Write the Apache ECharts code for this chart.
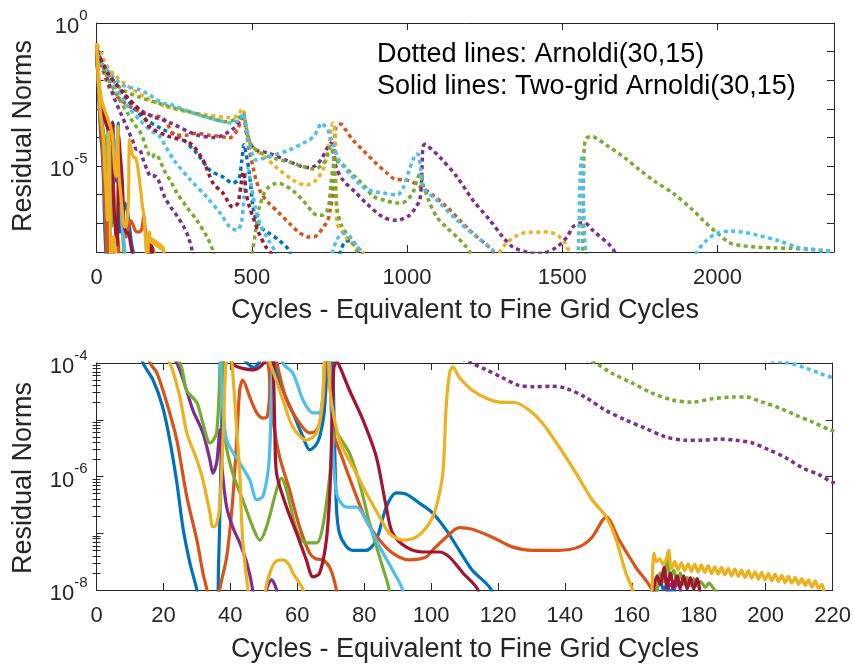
<!DOCTYPE html>
<html>
<head>
<meta charset="utf-8">
<script src="https://cdn.jsdelivr.net/npm/echarts@6/dist/echarts.min.js"></script>
<style>
  html, body { margin: 0; padding: 0; background: #ffffff; }
  #chart { width: 854px; height: 664px; }
</style>
</head>
<body>
<div id="chart"></div>
<script>
// Residual-norm histories, stored as [cycle, log10(residual norm)].
// Arnoldi(30,15) runs (dotted).
const arnoldiPurple1 = [[2,-0.9],[20,-1.5],[40,-2.1],[60,-2.7],[80,-3.2],[100,-3.7],[112,-4.0],[116.5,-4.12],[121,-4.25],[126,-4.39],[131,-4.42],[136,-4.41],[140,-4.44],[146,-4.6],[152,-4.83],[158,-5.0],[164,-5.15],[170,-5.3],[176,-5.36],[181,-5.36],[186,-5.34],[191,-5.36],[196,-5.41],[201,-5.53],[206,-5.67],[211,-5.85],[216,-5.97],[220,-6.1],[240,-6.45],[260,-6.75],[280,-7.1],[295,-7.45],[308,-7.95],[320,-8.6]];
const arnoldiGreen1 = [[2,-1.0],[20,-1.5],[40,-2.0],[60,-2.4],[80,-2.8],[100,-3.15],[120,-3.5],[140,-3.8],[149,-4.0],[154,-4.18],[160,-4.35],[166,-4.53],[172,-4.65],[178,-4.69],[184,-4.63],[190,-4.6],[194,-4.6],[199,-4.69],[204,-4.79],[209,-4.92],[214,-5.04],[219.4,-5.18],[240,-5.55],[259,-5.94],[291,-6.43],[323,-6.89],[356,-7.48],[375,-7.95],[390,-8.6],[480,-8.8],[500,-8.1],[512,-7.3],[523,-6.5],[540,-5.95],[555,-5.73],[572,-5.62],[588,-5.6],[610,-5.7],[633,-5.86],[665,-6.2],[697,-6.62],[713,-6.72],[729,-6.71],[745,-6.5],[750,-6.2],[755,-5.6],[763,-5.0],[771,-4.82],[787,-4.9],[803,-5.05],[825,-5.3],[845,-5.5],[868,-5.75],[890,-6.05],[930,-6.2],[968,-6.29],[985,-6.28],[1000,-6.19],[1020,-5.9],[1041,-5.3],[1047,-5.3],[1051,-5.6],[1070,-6.2],[1096,-6.78],[1128,-7.15],[1161,-7.48],[1185,-7.75],[1202,-8.0],[1220,-8.6],[1555,-8.8],[1565,-8.0],[1567,-6.5],[1569,-5.0],[1571,-4.3],[1576,-4.05],[1586,-3.98],[1597,-3.97],[1610,-4.03],[1643,-4.27],[1700,-4.7],[1750,-5.14],[1800,-5.55],[1856,-5.94],[1921,-6.54],[1953,-6.89],[1999,-7.34],[2041,-7.69],[2080,-7.78],[2128,-7.83],[2180,-7.86],[2234,-7.87],[2290,-7.9],[2340,-7.94],[2375,-8.0]];
const arnoldiCyan1 = [[2,-1.0],[30,-1.6],[60,-2.2],[100,-2.9],[140,-3.4],[180,-3.8],[207,-4.0],[212,-4.09],[216,-4.18],[220,-4.26],[250,-4.8],[300,-5.45],[355,-6.08],[398,-6.64],[430,-7.13],[452,-7.24],[466,-7.0],[474,-6.2],[480,-5.3],[486,-5.1],[492,-5.3],[500,-5.8],[515,-6.6],[530,-7.1],[555,-7.6],[575,-8.0],[590,-8.7],[740,-8.8],[760,-8.0],[775,-7.55],[795,-7.35],[815,-7.45],[835,-7.75],[852,-8.0],[870,-8.7]];
const arnoldiCyan2 = [[2,-1.19],[43,-1.75],[85,-2.17],[140,-2.34],[172,-2.52],[214,-2.8],[246,-2.87],[301,-3.11],[388,-3.39],[439,-3.5],[462,-3.35],[472,-3.15],[480,-3.5],[491,-4.2],[514,-4.79],[540,-4.72],[569,-4.62],[620,-4.44],[665,-4.2],[697,-3.99],[714,-3.7],[723,-3.5],[735,-3.6],[745,-3.74],[761,-4.2],[781,-4.79],[813,-5.24],[858,-5.73],[890,-5.88],[923,-5.94],[968,-6.01],[987,-5.77],[1005,-5.2],[1019,-4.79],[1030,-4.58],[1037,-4.6],[1045,-5.2],[1051,-5.73],[1096,-6.19],[1161,-6.89],[1225,-7.48],[1277,-7.94],[1299,-8.3],[1400,-8.9],[1540,-8.8],[1551,-8.0],[1555,-6.5],[1558,-5.2],[1562,-4.72],[1565,-5.0],[1568,-6.2],[1572,-7.5],[1576,-8.0],[1590,-8.8],[1900,-8.8],[1934,-8.0],[1965,-7.59],[1999,-7.34],[2041,-7.27],[2082,-7.31],[2128,-7.41],[2192,-7.59],[2256,-7.83],[2320,-7.94],[2372,-8.0]];
const arnoldiOrange = [[2,-0.9],[40,-2.24],[80,-2.7],[120,-3.0],[169,-3.22],[214,-3.32],[256,-3.92],[288,-3.92],[320,-3.85],[362,-3.92],[395,-3.95],[427,-4.02],[455,-3.7],[472,-3.2],[485,-4.0],[495,-4.6],[504,-5.03],[514,-5.49],[530,-5.94],[555,-6.29],[588,-6.64],[620,-6.99],[652,-7.31],[684,-7.48],[700,-7.48],[716,-7.34],[733,-7.1],[745,-6.89],[753,-6.5],[761,-5.94],[765,-4.44],[771,-3.64],[779,-3.55],[787,-3.53],[800,-3.7],[826,-4.09],[858,-4.44],[895,-4.85],[935,-5.24],[960,-5.45],[1000,-5.49],[1025,-5.6],[1051,-5.77],[1083,-6.01],[1128,-6.43],[1170,-6.89],[1212,-7.34],[1257,-7.76],[1277,-8.0],[1300,-8.6]];
const arnoldiPurple2 = [[2,-1.0],[30,-1.7],[80,-2.4],[150,-3.1],[240,-3.5],[320,-3.9],[380,-4.0],[440,-3.7],[472,-3.3],[485,-3.9],[500,-4.3],[514,-4.44],[555,-4.55],[611,-4.79],[665,-5.03],[690,-5.05],[707,-4.97],[725,-4.75],[739,-4.44],[755,-4.2],[763,-4.6],[771,-5.03],[794,-5.49],[836,-5.94],[868,-6.29],[923,-6.78],[968,-6.89],[1009,-6.71],[1030,-6.4],[1041,-6.19],[1047,-5.5],[1051,-4.34],[1058,-4.24],[1064,-4.27],[1106,-4.69],[1161,-5.38],[1212,-6.19],[1267,-6.89],[1309,-7.48],[1341,-7.83],[1386,-8.0],[1412,-8.05],[1438,-8.04],[1482,-7.83],[1515,-7.48],[1534,-7.13],[1557,-6.99],[1575,-7.0],[1598,-7.24],[1653,-7.76],[1669,-8.0],[1700,-8.7]];
const arnoldiGreen2 = [[2,-1.1],[30,-1.7],[80,-2.3],[140,-2.6],[200,-2.8],[260,-3.0],[300,-3.1],[360,-3.3],[420,-3.45],[460,-3.3],[472,-3.15],[485,-3.8],[500,-4.3],[540,-4.6],[580,-4.75],[620,-4.85],[660,-5.0],[700,-5.1],[728,-4.95],[745,-4.6],[755,-4.3],[762,-4.5],[768,-5.5],[775,-6.5],[790,-7.1],[815,-7.5],[840,-8.0],[860,-8.6]];
const arnoldiRed = [[2,-1.0],[40,-1.8],[100,-2.6],[150,-3.2],[172,-3.64],[230,-3.95],[301,-4.2],[343,-4.79],[375,-5.59],[407,-5.94],[439,-6.43],[455,-6.3],[466,-5.6],[472,-5.2],[478,-5.5],[482,-5.94],[492,-6.4],[504,-6.78],[523,-7.34],[546,-7.83],[559,-8.0],[600,-8.7]];
const arnoldiBlue = [[2,-1.0],[40,-1.9],[100,-2.7],[150,-3.3],[210,-3.7],[269,-3.99],[323,-4.55],[365,-5.14],[407,-5.38],[439,-5.59],[458,-5.45],[468,-4.8],[475,-4.25],[482,-4.6],[491,-5.14],[498,-5.84],[504,-6.43],[514,-6.89],[530,-7.15],[555,-7.34],[588,-7.59],[620,-7.94],[640,-8.6],[770,-8.6],[785,-8.0],[800,-7.65],[820,-7.6],[840,-7.85],[855,-8.0],[870,-8.6]];
const arnoldiYellow = [[2,-0.75],[40,-1.6],[100,-2.2],[160,-2.6],[220,-2.9],[290,-3.1],[350,-3.2],[420,-3.3],[455,-3.25],[465,-3.05],[472,-3.0],[480,-3.6],[495,-4.2],[515,-4.45],[537,-4.62],[578,-5.03],[633,-5.49],[675,-5.66],[707,-5.49],[733,-5.03],[749,-4.2],[756,-3.7],[761,-3.5],[766,-3.6],[770,-4.5],[772,-6.0],[775,-6.99],[794,-7.34],[813,-7.59],[836,-7.83],[858,-8.0],[880,-8.6],[1280,-8.7],[1299,-8.0],[1315,-7.75],[1331,-7.59],[1350,-7.45],[1373,-7.34],[1395,-7.31],[1418,-7.31],[1440,-7.3],[1460,-7.31],[1478,-7.38],[1492,-7.48],[1505,-7.62],[1515,-7.83],[1524,-8.0],[1540,-8.6]];

// Two-grid Arnoldi(30,15) runs (solid).
const twoGridBlue = [[0,-0.9],[4,-1.8],[8,-2.7],[12,-3.6],[13.9,-4.0],[16.9,-4.3],[19.8,-4.78],[21.9,-5.36],[24,-6.1],[25.8,-6.89],[27.9,-7.52],[30,-8.0],[32,-8.6],[35.5,-8.6],[36.5,-7.5],[37.3,-5.5],[38,-3.8],[39,-3.45],[41,-3.6],[43,-3.85],[45,-4.0],[47,-4.08],[48.5,-4.0],[50,-3.7],[51.5,-3.45],[52.5,-3.6],[53.5,-4.1],[55.7,-4.48],[58.7,-4.88],[61.7,-5.3],[63.7,-5.53],[65.5,-5.45],[66.7,-5.3],[68,-4.9],[69,-4.0],[69.7,-3.5],[70.4,-3.6],[71,-5.0],[71.7,-6.54],[72.6,-7.0],[74.5,-7.22],[76.6,-7.3],[80.6,-7.3],[83.6,-7.12],[86.6,-6.54],[89.6,-6.29],[92,-6.3],[96.5,-6.47],[100.4,-6.64],[104.5,-6.94],[108.4,-7.3],[112.3,-7.65],[118,-8.0],[120,-8.6],[166,-8.6],[167.5,-8.0],[168.5,-7.85],[169.5,-8.0],[170.5,-7.9],[171.5,-8.05],[172.5,-7.95],[174,-8.6]];
const twoGridOrange1 = [[0,-0.9],[5,-2.0],[10,-3.0],[16,-4.0],[18,-4.17],[21,-4.7],[24,-5.36],[27,-6.36],[30,-7.12],[31.8,-7.7],[33,-8.0],[34.5,-8.6],[36,-8.5],[36.8,-8.0],[38.9,-7.42],[40.7,-6.41],[41.9,-5.36],[42.8,-4.48],[43.7,-4.3],[45.8,-4.6],[47.9,-4.88],[49.7,-4.97],[51,-4.95],[51.8,-4.5],[52.4,-3.6],[53,-3.5],[53.6,-3.9],[56.8,-4.65],[60.7,-5.06],[63.7,-5.23],[65.5,-5.2],[66.7,-5.06],[67.8,-4.6],[68.6,-3.8],[69.3,-3.6],[70,-4.4],[70.6,-5.18],[73.6,-5.7],[76.6,-6.18],[80.6,-6.77],[84.6,-7.12],[88.5,-7.35],[93.5,-7.47],[98.5,-7.42],[100.4,-7.3],[104.5,-7.07],[108.4,-6.9],[112.3,-6.93],[118.3,-7.07],[124.2,-7.24],[130.2,-7.3],[138.2,-7.3],[144.2,-7.24],[148.1,-7.07],[151.1,-6.78],[152.3,-6.71],[156.2,-7.12],[161.2,-7.6],[166,-8.0],[168,-8.6]];
const twoGridOrange2 = [[0,-0.85],[5,-1.7],[10,-2.4],[20,-3.0],[30,-3.3],[40,-3.6],[47,-3.8],[51,-3.95],[52,-4.6],[53,-5.1],[54.7,-5.65],[57.7,-6.24],[60.7,-6.89],[63.7,-7.35],[65.5,-7.45],[67.6,-7.47],[69.7,-7.6],[71.7,-8.0],[73,-8.6]];
const twoGridYellow1 = [[0,-0.7],[5,-1.8],[10,-2.7],[16,-3.5],[21.9,-4.0],[24.9,-4.6],[27,-5.23],[30,-5.71],[31.8,-6.06],[33.9,-6.64],[34.8,-6.89],[35.8,-6.85],[36.8,-6.54],[37.8,-5.36],[38.5,-4.2],[39.2,-3.8],[40.2,-3.9],[40.7,-4.15],[41.7,-5.0],[42.8,-5.94],[43.7,-7.12],[45.3,-8.0],[47,-8.6],[49.5,-8.6],[50.5,-8.0],[51.8,-7.7],[53.5,-7.5],[55.7,-7.47],[57.5,-7.55],[58.7,-7.7],[61.7,-8.0],[63,-8.6]];
const twoGridYellow2 = [[0,-0.75],[8,-1.9],[15,-2.6],[25,-3.0],[35,-3.3],[45,-3.6],[50,-3.85],[51.8,-4.0],[55.7,-4.65],[58.7,-5.13],[62.7,-5.36],[65.8,-5.23],[67.5,-4.7],[68.2,-3.9],[69,-3.6],[69.8,-4.5],[72.6,-5.36],[76.6,-5.83],[80.6,-6.29],[84.6,-6.71],[87.5,-7.0],[91.5,-7.12],[95.5,-7.07],[99.5,-6.82],[101.5,-6.54],[103.5,-5.94],[104.5,-4.77],[105.5,-4.18],[106.5,-4.07],[108.4,-4.25],[112.3,-4.48],[116.5,-4.62],[120.4,-4.69],[125.4,-4.7],[129.3,-4.83],[133.3,-5.06],[138.3,-5.48],[143.3,-5.94],[148.1,-6.41],[152.3,-6.71],[155.3,-7.12],[158.2,-7.7],[160.2,-8.0],[162,-8.6],[165.5,-8.6],[166,-8.0],[166.6,-7.35],[167.3,-7.5],[168.3,-7.45],[169.3,-7.55],[170.3,-7.45],[171,-7.3],[171.8,-7.62],[172.8,-7.5],[173.8,-7.65],[174.8,-7.52],[175.8,-7.66],[176.8,-7.54],[177.8,-7.67],[178.8,-7.55],[179.8,-7.68],[180.8,-7.56],[181.8,-7.69],[182.8,-7.57],[183.8,-7.71],[184.8,-7.59],[185.8,-7.72],[186.8,-7.6],[187.8,-7.73],[188.8,-7.62],[189.8,-7.75],[190.8,-7.63],[191.8,-7.76],[192.8,-7.65],[193.8,-7.78],[194.8,-7.66],[195.8,-7.79],[196.8,-7.68],[197.8,-7.81],[198.8,-7.69],[199.8,-7.82],[200.8,-7.71],[201.8,-7.84],[202.8,-7.72],[203.8,-7.85],[204.8,-7.74],[205.8,-7.87],[206.8,-7.76],[207.8,-7.88],[208.8,-7.78],[209.8,-7.9],[210.8,-7.8],[211.8,-7.92],[212.8,-7.82],[213.8,-7.95],[214.8,-7.84],[215.8,-7.97],[216.8,-7.9],[217.6,-8.1],[218.5,-8.6]];
const twoGridPurple = [[0,-1.0],[6,-2.0],[12,-2.9],[18,-3.5],[24,-4.0],[26.9,-4.48],[28.8,-4.83],[31.8,-5.23],[33.9,-5.71],[34.8,-5.94],[35.9,-5.76],[36.5,-5.4],[36.8,-5.18],[37.6,-5.9],[38.9,-6.54],[40.7,-6.89],[42.8,-7.17],[44.9,-7.52],[46.7,-8.0],[48,-8.6],[50,-8.6],[50.8,-8.0],[52.3,-7.82],[53.8,-8.0],[55,-8.6],[169,-8.6],[170.5,-8.0],[171.5,-7.9],[172.5,-7.98],[173.5,-7.88],[174.5,-8.0],[176,-8.6]];
const twoGridGreen = [[0,-1.0],[6,-2.1],[12,-3.0],[18,-3.6],[24.9,-4.0],[26.9,-4.48],[30,-4.7],[31.8,-5.06],[33.9,-5.41],[35,-5.35],[35.9,-5.23],[36.6,-4.6],[37.1,-3.7],[37.5,-3.6],[37.9,-4.6],[38.5,-5.36],[40.7,-5.94],[43.7,-6.41],[46.7,-6.89],[48.8,-7.12],[50.8,-6.89],[53.8,-6.24],[55.3,-6.03],[56.8,-6.24],[59.8,-6.94],[62.7,-7.17],[65.8,-7.17],[67.6,-6.89],[69.7,-6.0],[70.6,-5.4],[71.6,-5.22],[72.6,-5.3],[75.6,-5.59],[78.6,-6.11],[81.6,-6.82],[84.6,-7.42],[87.5,-8.0],[89,-8.6],[166,-8.6],[167.5,-8.0],[168.5,-7.7],[169.5,-7.85],[170.5,-7.45],[171.5,-7.8],[172.5,-7.65],[173.5,-7.85],[174.5,-7.7],[175.5,-7.9],[176.5,-7.78],[177.5,-7.92],[178.5,-7.8],[179.5,-7.93],[180.5,-7.85],[182,-7.95],[183,-7.88],[184.5,-7.98],[186,-8.1],[187,-8.6]];
const twoGridCyan = [[0,-0.95],[10,-2.5],[20,-3.2],[30,-3.5],[35,-3.6],[36.5,-3.5],[37.5,-4.6],[38.9,-5.36],[42.8,-5.76],[45.8,-6.06],[47.9,-6.41],[49.7,-6.35],[51.2,-5.94],[51.8,-5.5],[52.4,-4.3],[53,-3.6],[54,-3.55],[55.7,-4.0],[58.7,-4.18],[61.7,-4.65],[64.7,-4.88],[66.5,-4.88],[67.6,-4.6],[68.2,-3.9],[68.8,-3.6],[69.5,-3.9],[70.3,-5.0],[71.7,-6.29],[74.7,-6.54],[77.7,-6.54],[80.6,-6.77],[84.6,-7.24],[88.5,-7.65],[91.5,-8.0],[93,-8.6]];
const twoGridRed = [[0,-1.0],[10,-2.4],[20,-3.1],[30,-3.5],[38,-3.75],[41,-4.03],[44,-4.1],[47,-4.12],[50,-4.0],[51.5,-3.7],[52.3,-3.5],[52.9,-4.2],[53.3,-5.2],[53.8,-5.94],[56.8,-6.54],[59.8,-7.0],[62.7,-7.47],[64.7,-7.77],[66.7,-7.7],[68.7,-7.12],[69.8,-6.2],[70.4,-5.0],[70.9,-4.1],[71.7,-3.98],[72.6,-4.05],[75.6,-4.48],[79.6,-5.0],[83.6,-5.65],[86.6,-6.54],[88.5,-7.0],[92.5,-7.24],[97.5,-7.33],[102.5,-7.33],[105.5,-7.42],[109.5,-7.7],[114,-8.0],[116,-8.6],[165,-8.6],[166.5,-8.0],[167.5,-7.75],[168.5,-7.9],[169.6,-7.6],[170.5,-7.95],[171.5,-7.7],[172.5,-7.95],[173.5,-7.75],[174.5,-7.95],[175.5,-7.75],[176.5,-7.98],[177.5,-7.78],[178.5,-7.98],[179.5,-7.8],[180.5,-8.1],[181.5,-8.6]];

// Axis tick labels (decade exponents that carry a label) and x tick positions.
const topYLabelExps = [0, -5];
const bottomYLabelExps = [-4, -6, -8];
const topXTicks = [0, 500, 1000, 1500, 2000];
const bottomXTicks = [0, 20, 40, 60, 80, 100, 120, 140, 160, 180, 200, 220];

const COLORS = {
  blue: '#0072BD', orange: '#D95319', yellow: '#EDB120', purple: '#7E2F8E',
  green: '#77AC30', cyan: '#4DBEEE', red: '#A2142F'
};
const FONT = '"Liberation Sans", Arial, Helvetica, sans-serif';
const AXIS_COLOR = '#262626';

const dottedRuns = [
  [arnoldiBlue, COLORS.blue], [arnoldiOrange, COLORS.orange], [arnoldiYellow, COLORS.yellow],
  [arnoldiPurple1, COLORS.purple], [arnoldiPurple2, COLORS.purple],
  [arnoldiGreen1, COLORS.green], [arnoldiGreen2, COLORS.green],
  [arnoldiCyan1, COLORS.cyan], [arnoldiCyan2, COLORS.cyan], [arnoldiRed, COLORS.red]
];
const solidRuns = [
  [twoGridBlue, COLORS.blue], [twoGridOrange1, COLORS.orange], [twoGridOrange2, COLORS.orange],
  [twoGridPurple, COLORS.purple], [twoGridGreen, COLORS.green], [twoGridCyan, COLORS.cyan],
  [twoGridRed, COLORS.red], [twoGridYellow1, COLORS.yellow], [twoGridYellow2, COLORS.yellow]
];

const toNorms = pts => pts.map(([c, e]) => [c, Math.pow(10, e)]);

// log-axis minor tick values (2..9 x each decade) for the lower panel
const minorLogTicks = [];
for (let d = -8; d < -4; d++) {
  for (let k = 2; k <= 9; k++) minorLogTicks.push(k * Math.pow(10, d));
}

function expLabel(allowed) {
  return v => {
    const e = Math.round(Math.log10(v));
    if (Math.abs(Math.log10(v) - e) > 1e-6 || allowed.indexOf(e) < 0) return '';
    return '{b|10}{s|' + e + '}';
  };
}
const richExp = {
  b: { fontSize: 22, fontFamily: FONT, color: AXIS_COLOR, lineHeight: 30, verticalAlign: 'bottom' },
  s: { fontSize: 15, fontFamily: FONT, color: AXIS_COLOR, lineHeight: 30, verticalAlign: 'top' }
};

function xAxes(gridIndex, max, interval, ticks) {
  const base = {
    type: 'value', gridIndex, min: 0, max, interval,
    axisLine: { show: true, onZero: false, lineStyle: { color: AXIS_COLOR, width: 1 } },
    axisTick: { show: true, inside: true, length: 7, lineStyle: { color: AXIS_COLOR }, customValues: ticks },
    splitLine: { show: false }
  };
  return [
    Object.assign({}, base, {
      position: 'bottom',
      axisLabel: {
        show: true, fontSize: 22, fontFamily: FONT, color: AXIS_COLOR, margin: 15,
        customValues: ticks, formatter: v => String(v)
      }
    }),
    Object.assign({}, base, { position: 'top', axisLabel: { show: false } })
  ];
}

function yAxes(gridIndex, min, max, labelExps, minor) {
  const base = {
    type: 'log', logBase: 10, gridIndex, min, max, interval: 1,
    axisLine: { show: true, onZero: false, lineStyle: { color: AXIS_COLOR, width: 1 } },
    axisTick: { show: true, inside: true, length: 7, lineStyle: { color: AXIS_COLOR } },
    splitLine: { show: false }, minorTick: { show: false }
  };
  const list = [
    Object.assign({}, base, {
      position: 'left',
      axisLabel: { show: true, margin: 9, formatter: expLabel(labelExps), rich: richExp }
    }),
    Object.assign({}, base, { position: 'right', axisLabel: { show: false } })
  ];
  if (minor) {
    ['left', 'right'].forEach(pos => {
      list.push({
        type: 'log', logBase: 10, gridIndex, min, max, position: pos,
        axisLine: { show: false }, axisLabel: { show: false }, splitLine: { show: false },
        axisTick: { show: true, inside: true, length: 4, lineStyle: { color: AXIS_COLOR }, customValues: minor }
      });
    });
  }
  return list;
}

const grids = [
  { left: 96.5, top: 23, width: 737.5, height: 229 },
  { left: 96.5, top: 363, width: 737.5, height: 227 }
];

const xAxis = [].concat(xAxes(0, 2375, 500, topXTicks), xAxes(1, 220, 20, bottomXTicks));
const yAxis = [].concat(yAxes(0, 1e-8, 1, topYLabelExps, null), yAxes(1, 1e-8, 1e-4, bottomYLabelExps, minorLogTicks));

const series = [];
[[0, 0], [2, 2]].forEach(([xi, yi]) => {
  dottedRuns.forEach(([pts, color]) => {
    series.push({
      type: 'line', xAxisIndex: xi, yAxisIndex: yi, data: toNorms(pts),
      showSymbol: false, smooth: 0.3, clip: true, silent: true,
      lineStyle: { color, width: 3.5, type: [4, 3.5], cap: 'butt' }
    });
  });
  solidRuns.forEach(([pts, color]) => {
    series.push({
      type: 'line', xAxisIndex: xi, yAxisIndex: yi, data: toNorms(pts),
      showSymbol: false, smooth: 0.3, clip: true, silent: true,
      lineStyle: { color, width: 3.2, type: 'solid' }
    });
  });
});

const centred = { align: 'center', textAlign: 'center', verticalAlign: 'middle', textVerticalAlign: 'middle' };
const nameStyle = text => Object.assign({ text, fontSize: 27, fontFamily: FONT, fill: AXIS_COLOR }, centred);
const noteStyle = text => ({ text, fontSize: 27, fontFamily: FONT, fill: '#000', verticalAlign: 'middle', textVerticalAlign: 'middle' });

const graphic = [
  { type: 'text', x: 377, y: 55, style: noteStyle('Dotted lines: Arnoldi(30,15)') },
  { type: 'text', x: 377, y: 87, style: noteStyle('Solid lines: Two-grid Arnoldi(30,15)') },
  { type: 'text', x: 465, y: 311, style: nameStyle('Cycles - Equivalent to Fine Grid Cycles') },
  { type: 'text', x: 465, y: 650, style: nameStyle('Cycles - Equivalent to Fine Grid Cycles') },
  { type: 'text', x: 24, y: 136, rotation: Math.PI / 2, style: nameStyle('Residual Norms') },
  { type: 'text', x: 24, y: 478, rotation: Math.PI / 2, style: nameStyle('Residual Norms') }
];

const chart = echarts.init(document.getElementById('chart'), null, { renderer: 'canvas' });
chart.setOption({
  animation: false,
  backgroundColor: '#ffffff',
  textStyle: { fontFamily: FONT },
  grid: grids,
  xAxis, yAxis, series, graphic
});
</script>
</body>
</html>
